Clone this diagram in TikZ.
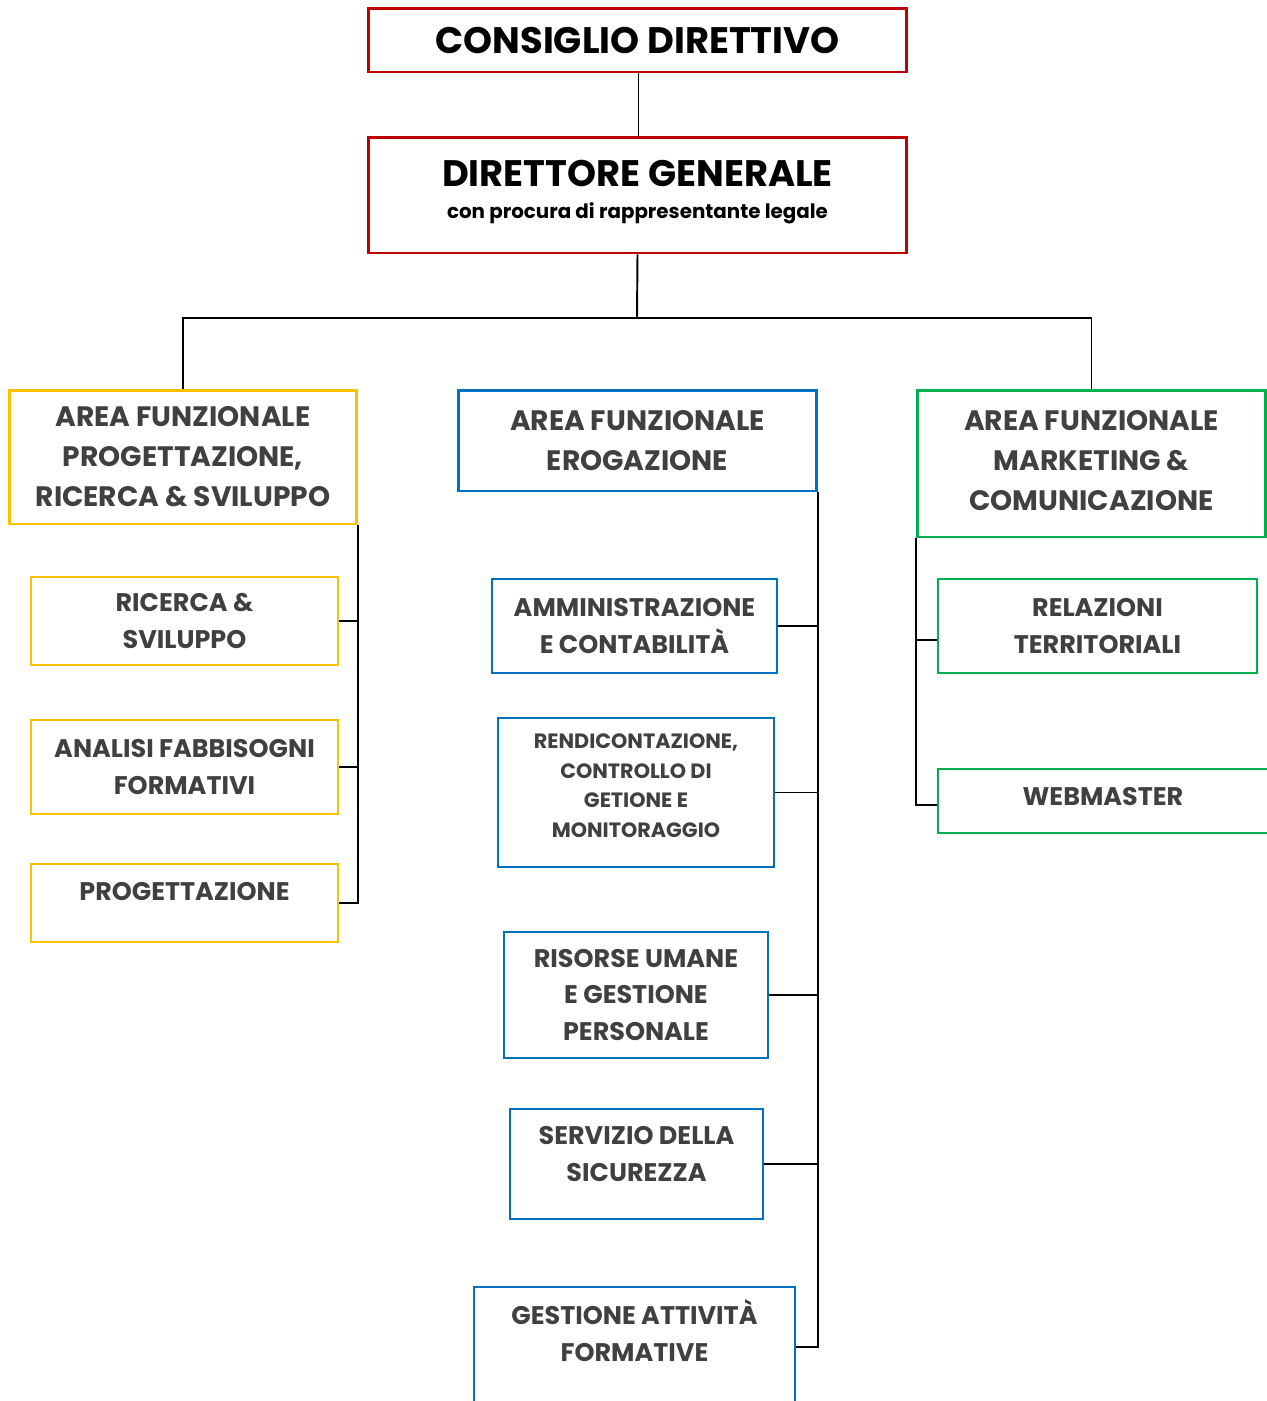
\documentclass[tikz,border=0pt]{standalone}
\usepackage{fontspec}
\setmainfont{Poppins}
\usetikzlibrary{positioning}

\definecolor{cdred}{HTML}{C00000}
\definecolor{areayellow}{HTML}{FFC000}
\definecolor{areablue}{HTML}{0070C0}
\definecolor{areagreen}{HTML}{00B050}
\definecolor{txtgray}{HTML}{404040}

\newcommand{\topfont}{\bfseries\fontsize{21}{26}\selectfont}
\newcommand{\legalfont}{\bfseries\fontsize{11.3}{14}\selectfont}
\newcommand{\areafont}{\bfseries\fontsize{16}{22.7}\selectfont}
\newcommand{\subfont}{\bfseries\fontsize{14.5}{21}\selectfont}
\newcommand{\smallsubfont}{\bfseries\fontsize{11.8}{17}\selectfont}

\tikzset{
topbox/.style={draw=cdred,line width=1.7pt,align=center,
text=black,font=\topfont,inner sep=0pt},
areabox/.style={draw=#1,line width=1.7pt,align=center,
text=txtgray,font=\areafont,inner sep=0pt},
subbox/.style={draw=#1,line width=1.1pt,align=center,
text=txtgray,font=\subfont,inner sep=0pt},
link/.style={line width=1.1pt,black}
}

\begin{document}
\begin{tikzpicture}[x=0.02cm,y=-0.02cm]
\useasboundingbox (0,0) rectangle (1267,1401);

% vertice
\node[topbox,minimum width=10.78cm,minimum height=1.28cm]
(cd) at (637.5,40){CONSIGLIO DIRETTIVO};

\node[topbox,minimum width=10.78cm,minimum height=2.32cm,
text depth=6.5pt](dg) at (637.5,195)
{DIRETTORE GENERALE\\[-8pt]{\legalfont con procura di rappresentante legale}};

% aree funzionali
\node[areabox=areayellow,minimum width=6.96cm,minimum height=2.68cm]
(afp) at (183,457){AREA FUNZIONALE\\PROGETTAZIONE,\\RICERCA \& SVILUPPO};

\node[areabox=areablue,minimum width=7.18cm,minimum height=2.02cm]
(afe) at (637.5,440.5){AREA FUNZIONALE\\EROGAZIONE};

\node[areabox=areagreen,minimum width=6.98cm,minimum height=2.94cm,
text depth=3.4pt](afm) at (1091.5,463.5){AREA FUNZIONALE\\MARKETING \&\\COMUNICAZIONE};

% progettazione
\node[subbox=areayellow,minimum width=6.14cm,minimum height=1.76cm]
(rs) at (184.5,621){RICERCA \&\\SVILUPPO};

\node[subbox=areayellow,minimum width=6.14cm,minimum height=1.88cm]
(afb) at (184.5,767){ANALISI FABBISOGNI\\FORMATIVI};

\node[subbox=areayellow,minimum width=6.14cm,minimum height=1.56cm,
text depth=13.6pt](prog) at (184.5,903){PROGETTAZIONE};

% erogazione
\node[subbox=areablue,minimum width=5.70cm,minimum height=1.88cm]
(amm) at (634.5,626){AMMINISTRAZIONE\\E CONTABILITÀ};

\node[subbox=areablue,minimum width=5.52cm,minimum height=2.98cm,
font=\smallsubfont,text depth=7.9pt](rend) at (636,792.5)
{RENDICONTAZIONE,\\CONTROLLO DI\\GETIONE E\\MONITORAGGIO};

\node[subbox=areablue,minimum width=5.28cm,minimum height=2.52cm]
(ru) at (636,995){RISORSE UMANE\\E GESTIONE\\PERSONALE};

\node[subbox=areablue,minimum width=5.06cm,minimum height=2.20cm,
text depth=11.3pt](sic) at (636.5,1164){SERVIZIO DELLA\\SICUREZZA};

\node[subbox=areablue,minimum width=6.42cm,minimum height=2.40cm,
text depth=19pt](gaf) at (634.5,1347){GESTIONE ATTIVITÀ\\FORMATIVE};

% marketing
\node[subbox=areagreen,minimum width=6.38cm,minimum height=1.88cm]
(rt) at (1097.5,626){RELAZIONI\\TERRITORIALI};

\node[subbox=areagreen,minimum width=6.60cm,minimum height=1.28cm,
text depth=5.7pt](web) at (1103,801){WEBMASTER};

% collegamenti
\coordinate (hub) at (637,318);
\draw[link] ([xshift=0.02cm]cd.south) -- ([xshift=0.02cm]dg.north);
\draw[link] (dg.south) -- (hub);
\draw[link] (afp.north) |- (hub) -| (afm.north);

\foreach \n in {rs,afb,prog}
\draw[link] (\n.east) -| (afp.south east);
\foreach \n in {amm,rend,ru,sic,gaf}
\draw[link] (\n.east) -| (afe.south east);
\draw[link] ([yshift=-0.28cm]rt.west) -| (afm.south west);
\draw[link] ([yshift=-0.08cm]web.west) -| (afm.south west);
\end{tikzpicture}
\end{document}
